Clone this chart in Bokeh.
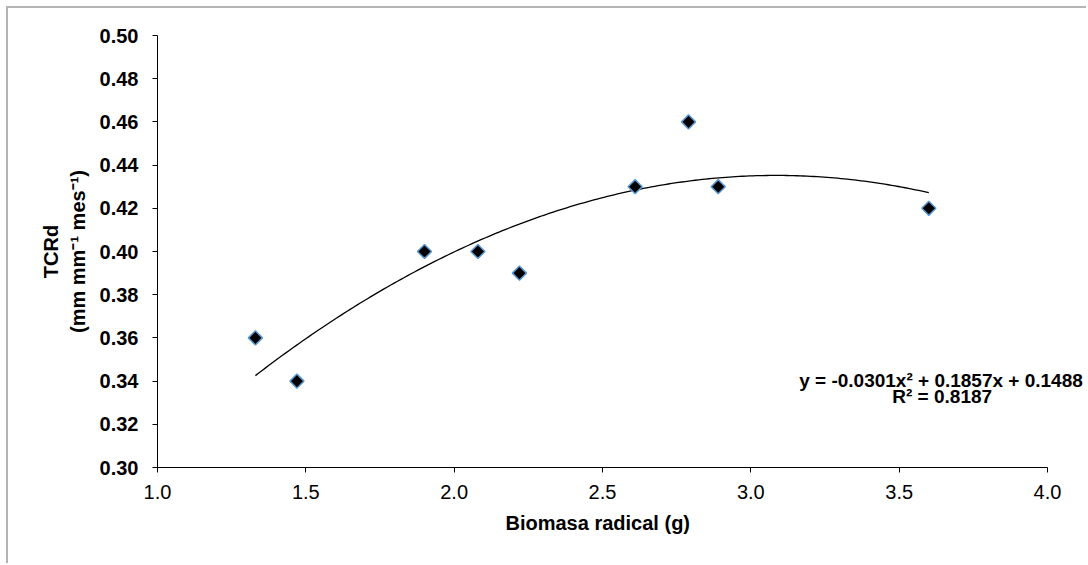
import numpy as np
from bokeh.plotting import figure
from bokeh.models import ColumnDataSource, Label, FixedTicker, Range1d, Title
from bokeh.embed import file_html
from bokeh.resources import INLINE

# Data
biomasa = [1.33, 1.47, 1.90, 2.08, 2.22, 2.61, 2.79, 2.89, 3.60]
tcrd = [0.36, 0.34, 0.40, 0.40, 0.39, 0.43, 0.46, 0.43, 0.42]

# Trendline coefficients (as printed on the chart)
coef_a = -0.0301
coef_b = 0.1857
coef_c = 0.1488
eq_text = "y = -0.0301x² + 0.1857x + 0.1488"
r2_text = "R² = 0.8187"
x_title = "Biomasa radical (g)"
y_title = "TCRd\n(mm mm⁻¹ mes⁻¹)"

x_ticks = [1.0, 1.5, 2.0, 2.5, 3.0, 3.5, 4.0]
y_ticks = [0.30, 0.32, 0.34, 0.36, 0.38, 0.40, 0.42, 0.44, 0.46, 0.48, 0.50]

FONT = "Liberation Sans"

# frame extends to the right edge so the equation text is not clipped;
# the x axis itself is bounded to 1.0-4.0
p = figure(width=1080, height=557, output_backend="svg", toolbar_location=None,
           x_range=Range1d(1.0, 4.1382), y_range=Range1d(0.30, 0.50),
           min_border_left=149, min_border_right=0, min_border_top=27, min_border_bottom=98)
p.styles = {"margin-left": "6px", "margin-top": "6px",
            "border-left": "2px solid #b4b4b4", "border-top": "2px solid #b4b4b4"}
p.outline_line_color = None
p.xgrid.grid_line_color = None
p.ygrid.grid_line_color = None
p.background_fill_color = "white"
p.border_fill_color = "white"

# trendline
xs = np.linspace(min(biomasa), max(biomasa), 200)
ys = coef_a * xs ** 2 + coef_b * xs + coef_c
p.line(xs, ys, line_color="black", line_width=1.3)

src = ColumnDataSource(dict(x=biomasa, y=tcrd))
p.scatter("x", "y", source=src, marker="square", angle=np.pi / 4, size=10,
          fill_color="black", line_color="#5b9bd5", line_width=1.5)

# axes
p.xaxis.bounds = (1.0, 4.0)
p.xaxis.ticker = FixedTicker(ticks=x_ticks)
p.yaxis.ticker = FixedTicker(ticks=y_ticks)
p.xaxis.major_label_overrides = {t: f"{t:.1f}" for t in x_ticks}
p.yaxis.major_label_overrides = {t: f"{t:.2f}" for t in y_ticks}
for ax in (p.xaxis, p.yaxis):
    ax.axis_line_color = "black"
    ax.axis_line_width = 1
    ax.major_tick_line_color = "black"
    ax.major_tick_in = 0
    ax.major_tick_out = 5
    ax.minor_tick_line_color = None
    ax.major_label_text_font = FONT
    ax.major_label_text_font_size = "20px"
    ax.major_label_text_color = "black"
    ax.axis_label_text_font = FONT
    ax.axis_label_text_font_size = "20px"
    ax.axis_label_text_font_style = "bold"
    ax.axis_label_text_color = "black"
p.yaxis.major_label_text_font_style = "bold"
p.xaxis.major_label_text_font_style = "normal"
p.xaxis.major_label_standoff = 12
p.yaxis.major_label_standoff = 14
p.yaxis.axis_label = y_title
p.yaxis.axis_label_standoff = 8

# x-axis title centred under the 1.0-4.0 part of the axis
p.add_layout(Title(text=x_title, align="left", offset=348, standoff=17,
                   text_font=FONT, text_font_size="20px", text_font_style="bold",
                   text_color="black"), "below")

p.add_layout(Label(x=3.641, y=0.3403, text=eq_text, text_align="center",
                   text_baseline="middle", text_font=FONT, text_font_size="19px",
                   text_font_style="bold", text_color="black"))
p.add_layout(Label(x=3.645, y=0.3329, text=r2_text, text_align="center",
                   text_baseline="middle", text_font=FONT, text_font_size="19px",
                   text_font_style="bold", text_color="black"))

open("out.html", "w").write(file_html(p, INLINE))
